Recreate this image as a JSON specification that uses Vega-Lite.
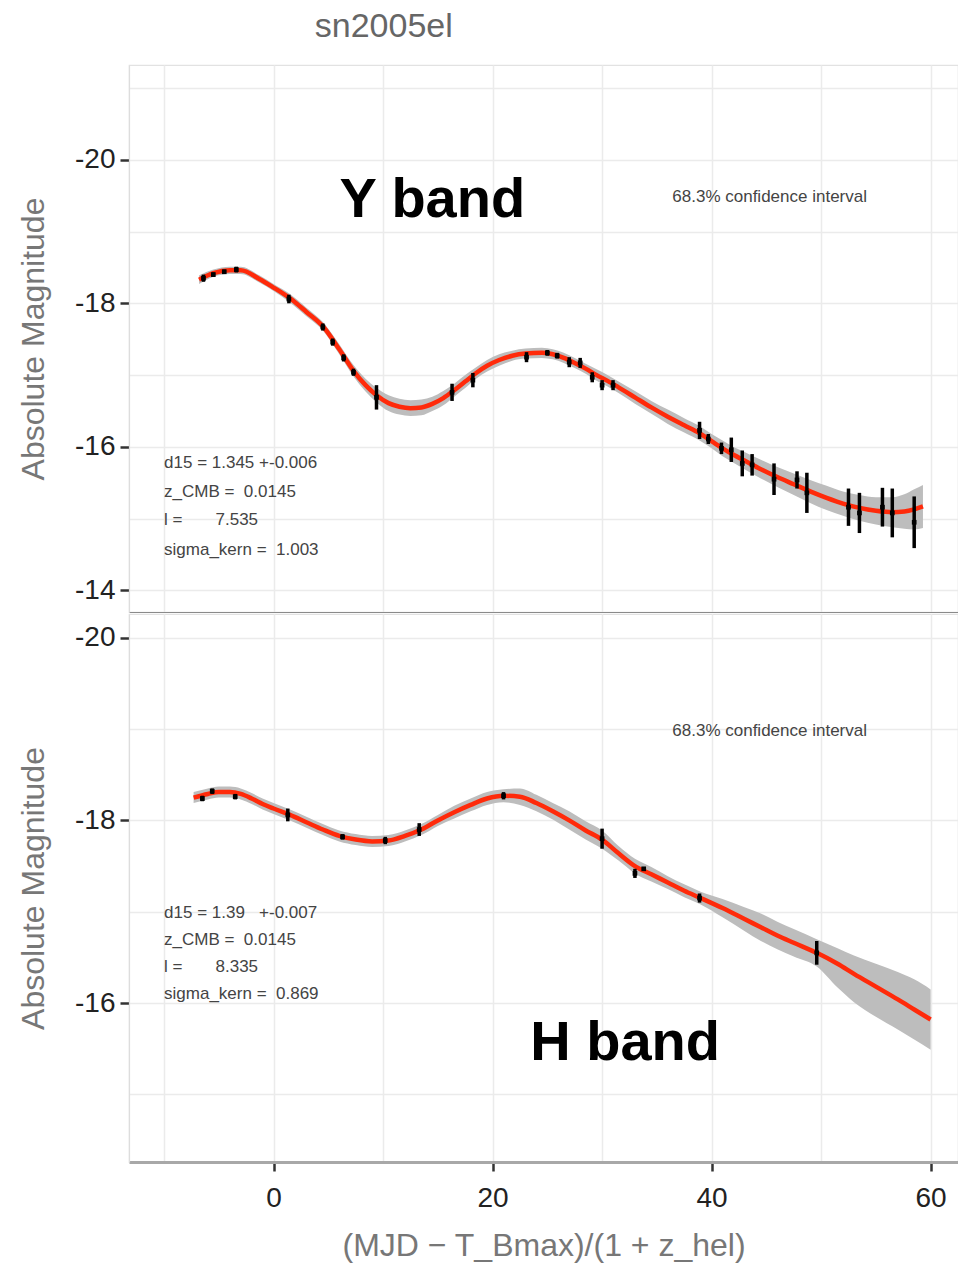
{
  "$schema": "https://vega.github.io/schema/vega-lite/v6.json",
  "padding": {"left": 16, "top": 10, "right": 0, "bottom": 4},
  "background": "white",
  "title": {"text": "sn2005el", "fontSize": 34, "color": "#666666", "fontWeight": "normal", "anchor": "middle", "dx": -104, "offset": 20},
  "spacing": 0,
  "datasets": {
    "curve": [
      {"band": "Y", "x": -6.8, "y": -18.33, "lo": -18.39, "hi": -18.27},
      {"band": "Y", "x": -5.5, "y": -18.42, "lo": -18.47, "hi": -18.37},
      {"band": "Y", "x": -4.0, "y": -18.46, "lo": -18.51, "hi": -18.41},
      {"band": "Y", "x": -3.0, "y": -18.46, "lo": -18.51, "hi": -18.41},
      {"band": "Y", "x": -1.3, "y": -18.34, "lo": -18.39, "hi": -18.29},
      {"band": "Y", "x": 0.0, "y": -18.22, "lo": -18.27, "hi": -18.17},
      {"band": "Y", "x": 1.5, "y": -18.07, "lo": -18.13, "hi": -18.01},
      {"band": "Y", "x": 3.0, "y": -17.88, "lo": -17.94, "hi": -17.82},
      {"band": "Y", "x": 4.5, "y": -17.68, "lo": -17.74, "hi": -17.62},
      {"band": "Y", "x": 6.0, "y": -17.36, "lo": -17.43, "hi": -17.29},
      {"band": "Y", "x": 7.3, "y": -17.06, "lo": -17.14, "hi": -16.98},
      {"band": "Y", "x": 8.4, "y": -16.86, "lo": -16.95, "hi": -16.77},
      {"band": "Y", "x": 9.4, "y": -16.72, "lo": -16.82, "hi": -16.62},
      {"band": "Y", "x": 10.5, "y": -16.61, "lo": -16.72, "hi": -16.50},
      {"band": "Y", "x": 11.5, "y": -16.56, "lo": -16.67, "hi": -16.45},
      {"band": "Y", "x": 12.5, "y": -16.54, "lo": -16.65, "hi": -16.43},
      {"band": "Y", "x": 13.5, "y": -16.55, "lo": -16.66, "hi": -16.44},
      {"band": "Y", "x": 14.5, "y": -16.60, "lo": -16.70, "hi": -16.50},
      {"band": "Y", "x": 15.5, "y": -16.68, "lo": -16.78, "hi": -16.58},
      {"band": "Y", "x": 16.5, "y": -16.79, "lo": -16.88, "hi": -16.70},
      {"band": "Y", "x": 17.5, "y": -16.91, "lo": -17.00, "hi": -16.82},
      {"band": "Y", "x": 18.5, "y": -17.03, "lo": -17.11, "hi": -16.95},
      {"band": "Y", "x": 19.5, "y": -17.13, "lo": -17.21, "hi": -17.05},
      {"band": "Y", "x": 20.6, "y": -17.21, "lo": -17.29, "hi": -17.13},
      {"band": "Y", "x": 21.8, "y": -17.27, "lo": -17.34, "hi": -17.20},
      {"band": "Y", "x": 23.0, "y": -17.30, "lo": -17.37, "hi": -17.23},
      {"band": "Y", "x": 24.5, "y": -17.31, "lo": -17.38, "hi": -17.24},
      {"band": "Y", "x": 25.5, "y": -17.29, "lo": -17.36, "hi": -17.22},
      {"band": "Y", "x": 26.5, "y": -17.24, "lo": -17.31, "hi": -17.17},
      {"band": "Y", "x": 27.5, "y": -17.17, "lo": -17.24, "hi": -17.10},
      {"band": "Y", "x": 28.5, "y": -17.09, "lo": -17.16, "hi": -17.02},
      {"band": "Y", "x": 29.5, "y": -17.00, "lo": -17.08, "hi": -16.92},
      {"band": "Y", "x": 30.5, "y": -16.92, "lo": -17.00, "hi": -16.84},
      {"band": "Y", "x": 31.5, "y": -16.83, "lo": -16.91, "hi": -16.75},
      {"band": "Y", "x": 33.0, "y": -16.69, "lo": -16.78, "hi": -16.60},
      {"band": "Y", "x": 34.5, "y": -16.55, "lo": -16.64, "hi": -16.46},
      {"band": "Y", "x": 36.0, "y": -16.42, "lo": -16.52, "hi": -16.32},
      {"band": "Y", "x": 37.5, "y": -16.30, "lo": -16.40, "hi": -16.20},
      {"band": "Y", "x": 38.9, "y": -16.19, "lo": -16.29, "hi": -16.09},
      {"band": "Y", "x": 40.0, "y": -16.08, "lo": -16.18, "hi": -15.98},
      {"band": "Y", "x": 41.0, "y": -15.98, "lo": -16.09, "hi": -15.87},
      {"band": "Y", "x": 42.0, "y": -15.89, "lo": -16.00, "hi": -15.78},
      {"band": "Y", "x": 43.0, "y": -15.81, "lo": -15.93, "hi": -15.69},
      {"band": "Y", "x": 44.5, "y": -15.69, "lo": -15.82, "hi": -15.56},
      {"band": "Y", "x": 46.0, "y": -15.58, "lo": -15.72, "hi": -15.44},
      {"band": "Y", "x": 47.5, "y": -15.48, "lo": -15.63, "hi": -15.33},
      {"band": "Y", "x": 49.0, "y": -15.38, "lo": -15.54, "hi": -15.22},
      {"band": "Y", "x": 50.5, "y": -15.29, "lo": -15.46, "hi": -15.12},
      {"band": "Y", "x": 52.0, "y": -15.21, "lo": -15.38, "hi": -15.04},
      {"band": "Y", "x": 53.5, "y": -15.15, "lo": -15.33, "hi": -14.97},
      {"band": "Y", "x": 55.0, "y": -15.11, "lo": -15.30, "hi": -14.92},
      {"band": "Y", "x": 56.5, "y": -15.09, "lo": -15.30, "hi": -14.88},
      {"band": "Y", "x": 57.6, "y": -15.10, "lo": -15.34, "hi": -14.86},
      {"band": "Y", "x": 58.5, "y": -15.13, "lo": -15.41, "hi": -14.85},
      {"band": "Y", "x": 59.3, "y": -15.17, "lo": -15.47, "hi": -14.87},
      {"band": "H", "x": -7.3, "y": -18.25, "lo": -18.31, "hi": -18.19},
      {"band": "H", "x": -6.0, "y": -18.29, "lo": -18.35, "hi": -18.23},
      {"band": "H", "x": -5.0, "y": -18.31, "lo": -18.37, "hi": -18.25},
      {"band": "H", "x": -4.0, "y": -18.31, "lo": -18.37, "hi": -18.25},
      {"band": "H", "x": -3.0, "y": -18.29, "lo": -18.35, "hi": -18.23},
      {"band": "H", "x": -2.0, "y": -18.24, "lo": -18.30, "hi": -18.18},
      {"band": "H", "x": -1.0, "y": -18.18, "lo": -18.24, "hi": -18.12},
      {"band": "H", "x": 0.0, "y": -18.13, "lo": -18.19, "hi": -18.07},
      {"band": "H", "x": 1.5, "y": -18.06, "lo": -18.12, "hi": -18.00},
      {"band": "H", "x": 3.0, "y": -17.98, "lo": -18.04, "hi": -17.92},
      {"band": "H", "x": 4.5, "y": -17.90, "lo": -17.96, "hi": -17.84},
      {"band": "H", "x": 6.0, "y": -17.83, "lo": -17.89, "hi": -17.77},
      {"band": "H", "x": 7.5, "y": -17.79, "lo": -17.85, "hi": -17.73},
      {"band": "H", "x": 9.0, "y": -17.77, "lo": -17.83, "hi": -17.71},
      {"band": "H", "x": 10.5, "y": -17.78, "lo": -17.84, "hi": -17.72},
      {"band": "H", "x": 12.0, "y": -17.83, "lo": -17.89, "hi": -17.77},
      {"band": "H", "x": 13.5, "y": -17.90, "lo": -17.96, "hi": -17.84},
      {"band": "H", "x": 15.0, "y": -18.00, "lo": -18.06, "hi": -17.94},
      {"band": "H", "x": 16.5, "y": -18.09, "lo": -18.16, "hi": -18.02},
      {"band": "H", "x": 18.0, "y": -18.17, "lo": -18.24, "hi": -18.10},
      {"band": "H", "x": 19.5, "y": -18.24, "lo": -18.31, "hi": -18.17},
      {"band": "H", "x": 21.0, "y": -18.27, "lo": -18.34, "hi": -18.20},
      {"band": "H", "x": 22.5, "y": -18.26, "lo": -18.35, "hi": -18.17},
      {"band": "H", "x": 24.0, "y": -18.19, "lo": -18.28, "hi": -18.10},
      {"band": "H", "x": 25.5, "y": -18.10, "lo": -18.19, "hi": -18.01},
      {"band": "H", "x": 27.0, "y": -18.00, "lo": -18.10, "hi": -17.90},
      {"band": "H", "x": 28.5, "y": -17.89, "lo": -17.99, "hi": -17.79},
      {"band": "H", "x": 30.0, "y": -17.79, "lo": -17.89, "hi": -17.69},
      {"band": "H", "x": 31.5, "y": -17.64, "lo": -17.72, "hi": -17.56},
      {"band": "H", "x": 33.0, "y": -17.50, "lo": -17.58, "hi": -17.42},
      {"band": "H", "x": 34.5, "y": -17.41, "lo": -17.49, "hi": -17.33},
      {"band": "H", "x": 36.0, "y": -17.32, "lo": -17.39, "hi": -17.25},
      {"band": "H", "x": 37.5, "y": -17.23, "lo": -17.30, "hi": -17.16},
      {"band": "H", "x": 39.0, "y": -17.15, "lo": -17.22, "hi": -17.08},
      {"band": "H", "x": 41.0, "y": -17.04, "lo": -17.14, "hi": -16.94},
      {"band": "H", "x": 43.0, "y": -16.92, "lo": -17.05, "hi": -16.79},
      {"band": "H", "x": 44.5, "y": -16.83, "lo": -16.98, "hi": -16.68},
      {"band": "H", "x": 46.0, "y": -16.74, "lo": -16.89, "hi": -16.59},
      {"band": "H", "x": 47.5, "y": -16.66, "lo": -16.81, "hi": -16.51},
      {"band": "H", "x": 49.6, "y": -16.55, "lo": -16.70, "hi": -16.40},
      {"band": "H", "x": 51.5, "y": -16.43, "lo": -16.60, "hi": -16.17},
      {"band": "H", "x": 53.0, "y": -16.32, "lo": -16.52, "hi": -16.01},
      {"band": "H", "x": 55.0, "y": -16.18, "lo": -16.43, "hi": -15.85},
      {"band": "H", "x": 57.0, "y": -16.04, "lo": -16.34, "hi": -15.71},
      {"band": "H", "x": 58.5, "y": -15.93, "lo": -16.26, "hi": -15.60},
      {"band": "H", "x": 60.0, "y": -15.82, "lo": -16.15, "hi": -15.49}
    ],
    "obs": [
      {"band": "Y", "x": -6.4, "y": -18.35, "err": 0.05},
      {"band": "Y", "x": -5.5, "y": -18.40, "err": 0.03},
      {"band": "Y", "x": -4.5, "y": -18.44, "err": 0.03},
      {"band": "Y", "x": -3.4, "y": -18.47, "err": 0.04},
      {"band": "Y", "x": 1.4, "y": -18.06, "err": 0.06},
      {"band": "Y", "x": 4.5, "y": -17.67, "err": 0.05},
      {"band": "Y", "x": 5.4, "y": -17.46, "err": 0.05},
      {"band": "Y", "x": 6.4, "y": -17.24, "err": 0.05},
      {"band": "Y", "x": 7.3, "y": -17.04, "err": 0.05},
      {"band": "Y", "x": 9.4, "y": -16.69, "err": 0.17},
      {"band": "Y", "x": 16.3, "y": -16.76, "err": 0.12},
      {"band": "Y", "x": 18.2, "y": -16.93, "err": 0.10},
      {"band": "Y", "x": 23.1, "y": -17.25, "err": 0.07},
      {"band": "Y", "x": 25.0, "y": -17.31, "err": 0.04},
      {"band": "Y", "x": 25.9, "y": -17.27, "err": 0.04},
      {"band": "Y", "x": 27.0, "y": -17.18, "err": 0.07},
      {"band": "Y", "x": 28.0, "y": -17.17, "err": 0.07},
      {"band": "Y", "x": 29.1, "y": -16.97, "err": 0.07},
      {"band": "Y", "x": 30.0, "y": -16.86, "err": 0.07},
      {"band": "Y", "x": 31.0, "y": -16.86, "err": 0.07},
      {"band": "Y", "x": 38.9, "y": -16.23, "err": 0.12},
      {"band": "Y", "x": 39.7, "y": -16.11, "err": 0.07},
      {"band": "Y", "x": 40.9, "y": -15.98, "err": 0.08},
      {"band": "Y", "x": 41.8, "y": -15.96, "err": 0.17},
      {"band": "Y", "x": 42.8, "y": -15.77, "err": 0.18},
      {"band": "Y", "x": 43.7, "y": -15.75, "err": 0.15},
      {"band": "Y", "x": 45.7, "y": -15.55, "err": 0.22},
      {"band": "Y", "x": 47.8, "y": -15.54, "err": 0.12},
      {"band": "Y", "x": 48.7, "y": -15.36, "err": 0.28},
      {"band": "Y", "x": 52.5, "y": -15.16, "err": 0.26},
      {"band": "Y", "x": 53.5, "y": -15.08, "err": 0.28},
      {"band": "Y", "x": 55.6, "y": -15.16, "err": 0.27},
      {"band": "Y", "x": 56.5, "y": -15.08, "err": 0.34},
      {"band": "Y", "x": 58.5, "y": -14.95, "err": 0.36},
      {"band": "H", "x": -6.5, "y": -18.24, "err": 0.03},
      {"band": "H", "x": -5.6, "y": -18.32, "err": 0.03},
      {"band": "H", "x": -3.5, "y": -18.26, "err": 0.03},
      {"band": "H", "x": 1.3, "y": -18.06, "err": 0.07},
      {"band": "H", "x": 6.3, "y": -17.82, "err": 0.03},
      {"band": "H", "x": 10.2, "y": -17.78, "err": 0.04},
      {"band": "H", "x": 13.3, "y": -17.90, "err": 0.07},
      {"band": "H", "x": 21.0, "y": -18.27, "err": 0.04},
      {"band": "H", "x": 30.0, "y": -17.80, "err": 0.11},
      {"band": "H", "x": 33.0, "y": -17.42, "err": 0.05},
      {"band": "H", "x": 33.8, "y": -17.47, "err": 0.02},
      {"band": "H", "x": 38.9, "y": -17.15, "err": 0.05},
      {"band": "H", "x": 49.6, "y": -16.55, "err": 0.13}
    ],
    "notes": [
      {"band": "Y", "kind": "name", "x": 14.5, "y": -19.44, "text": "Y band"},
      {"band": "Y", "kind": "ci", "x": 45.3, "y": -19.48, "text": "68.3% confidence interval"},
      {"band": "Y", "kind": "stat", "x": -10.0, "y": -15.77, "text": "d15 = 1.345 +-0.006"},
      {"band": "Y", "kind": "stat", "x": -10.0, "y": -15.37, "text": "z_CMB =\u00a0\u00a00.0145"},
      {"band": "Y", "kind": "stat", "x": -10.0, "y": -14.98, "text": "l =\u00a0\u00a0\u00a0\u00a0\u00a0\u00a0\u00a07.535"},
      {"band": "Y", "kind": "stat", "x": -10.0, "y": -14.57, "text": "sigma_kern =\u00a0\u00a01.003"},
      {"band": "H", "kind": "name", "x": 32.1, "y": -15.56, "text": "H band"},
      {"band": "H", "kind": "ci", "x": 45.3, "y": -18.98, "text": "68.3% confidence interval"},
      {"band": "H", "kind": "stat", "x": -10.0, "y": -16.99, "text": "d15 = 1.39\u00a0\u00a0\u00a0+-0.007"},
      {"band": "H", "kind": "stat", "x": -10.0, "y": -16.69, "text": "z_CMB =\u00a0\u00a00.0145"},
      {"band": "H", "kind": "stat", "x": -10.0, "y": -16.39, "text": "l =\u00a0\u00a0\u00a0\u00a0\u00a0\u00a0\u00a08.335"},
      {"band": "H", "kind": "stat", "x": -10.0, "y": -16.10, "text": "sigma_kern =\u00a0\u00a00.869"}
    ]
  },
  "vconcat": [
    {
      "width": 829,
      "height": 547,
      "encoding": {
        "x": {"field": "x", "type": "quantitative", "scale": {"domain": [-13.2, 62.5], "nice": false, "zero": false},
          "axis": {"values": [-10, 0, 10, 20, 30, 40, 50, 60], "labels": false, "ticks": false, "title": null, "domain": true, "domainColor": "#8a8a8a", "domainWidth": 1.2}}
      },
      "layer": [
        {
          "data": {"name": "curve"},
          "transform": [{"filter": "datum.band == 'Y'"}],
          "mark": {"type": "area", "color": "#bdbdbd", "interpolate": "monotone", "opacity": 1},
          "encoding": {
            "y": {"field": "lo", "type": "quantitative", "scale": {"domain": [-21.32, -13.7], "reverse": true, "nice": false, "zero": false},
              "axis": {"values": [-21, -20, -19, -18, -17, -16, -15, -14], "title": "Absolute Magnitude",
                "labelExpr": "datum.value % 2 == 0 ? '' + datum.value : ''",
                "tickOpacity": {"condition": {"test": "datum.value % 2 == 0", "value": 1}, "value": 0}}},
            "y2": {"field": "hi"}
          }
        },
        {
          "data": {"name": "curve"},
          "transform": [{"filter": "datum.band == 'Y'"}],
          "mark": {"type": "line", "color": "#ff2a0a", "strokeWidth": 4.5, "interpolate": "monotone"},
          "encoding": {"y": {"field": "y", "type": "quantitative"}}
        },
        {
          "data": {"name": "obs"},
          "transform": [{"filter": "datum.band == 'Y'"}, {"calculate": "datum.y - datum.err", "as": "ylo"}, {"calculate": "datum.y + datum.err", "as": "yhi"}],
          "mark": {"type": "rule", "color": "black", "strokeWidth": 3.5},
          "encoding": {"y": {"field": "ylo", "type": "quantitative"}, "y2": {"field": "yhi"}}
        },
        {
          "data": {"name": "obs"},
          "transform": [{"filter": "datum.band == 'Y'"}],
          "mark": {"type": "square", "color": "black", "size": 22, "opacity": 1},
          "encoding": {"y": {"field": "y", "type": "quantitative"}}
        },
        {
          "data": {"name": "notes"},
          "transform": [{"filter": "datum.band == 'Y' && datum.kind == 'name'"}],
          "mark": {"type": "text", "fontSize": 56, "fontWeight": "bold", "color": "black", "align": "center", "baseline": "middle"},
          "encoding": {"y": {"field": "y", "type": "quantitative"}, "text": {"field": "text"}}
        },
        {
          "data": {"name": "notes"},
          "transform": [{"filter": "datum.band == 'Y' && datum.kind == 'ci'"}],
          "mark": {"type": "text", "fontSize": 17, "color": "#444444", "align": "center", "baseline": "middle"},
          "encoding": {"y": {"field": "y", "type": "quantitative"}, "text": {"field": "text"}}
        },
        {
          "data": {"name": "notes"},
          "transform": [{"filter": "datum.band == 'Y' && datum.kind == 'stat'"}],
          "mark": {"type": "text", "fontSize": 17, "color": "#444444", "align": "left", "baseline": "middle"},
          "encoding": {"y": {"field": "y", "type": "quantitative"}, "text": {"field": "text"}}
        }
      ]
    },
    {
      "width": 829,
      "height": 548,
      "encoding": {
        "x": {"field": "x", "type": "quantitative", "scale": {"domain": [-13.2, 62.5], "nice": false, "zero": false},
          "axis": {"values": [-10, 0, 10, 20, 30, 40, 50, 60], "title": "(MJD − T_Bmax)/(1 + z_hel)",
            "labelExpr": "datum.value % 20 == 0 ? '' + datum.value : ''",
            "tickOpacity": {"condition": {"test": "datum.value % 20 == 0", "value": 1}, "value": 0},
            "domainColor": "#a8a8a8", "domainWidth": 3, "labelPadding": 13, "titlePadding": 18}}
      },
      "layer": [
        {
          "data": {"name": "curve"},
          "transform": [{"filter": "datum.band == 'H'"}],
          "mark": {"type": "area", "color": "#bdbdbd", "interpolate": "monotone", "opacity": 1},
          "encoding": {
            "y": {"field": "lo", "type": "quantitative", "scale": {"domain": [-20.26, -14.26], "reverse": true, "nice": false, "zero": false},
              "axis": {"values": [-20, -19, -18, -17, -16, -15], "title": "Absolute Magnitude",
                "labelExpr": "datum.value % 2 == 0 ? '' + datum.value : ''",
                "tickOpacity": {"condition": {"test": "datum.value % 2 == 0", "value": 1}, "value": 0}}},
            "y2": {"field": "hi"}
          }
        },
        {
          "data": {"name": "curve"},
          "transform": [{"filter": "datum.band == 'H'"}],
          "mark": {"type": "line", "color": "#ff2a0a", "strokeWidth": 4.5, "interpolate": "monotone"},
          "encoding": {"y": {"field": "y", "type": "quantitative"}}
        },
        {
          "data": {"name": "obs"},
          "transform": [{"filter": "datum.band == 'H'"}, {"calculate": "datum.y - datum.err", "as": "ylo"}, {"calculate": "datum.y + datum.err", "as": "yhi"}],
          "mark": {"type": "rule", "color": "black", "strokeWidth": 3.5},
          "encoding": {"y": {"field": "ylo", "type": "quantitative"}, "y2": {"field": "yhi"}}
        },
        {
          "data": {"name": "obs"},
          "transform": [{"filter": "datum.band == 'H'"}],
          "mark": {"type": "square", "color": "black", "size": 22, "opacity": 1},
          "encoding": {"y": {"field": "y", "type": "quantitative"}}
        },
        {
          "data": {"name": "notes"},
          "transform": [{"filter": "datum.band == 'H' && datum.kind == 'name'"}],
          "mark": {"type": "text", "fontSize": 56, "fontWeight": "bold", "color": "black", "align": "center", "baseline": "middle"},
          "encoding": {"y": {"field": "y", "type": "quantitative"}, "text": {"field": "text"}}
        },
        {
          "data": {"name": "notes"},
          "transform": [{"filter": "datum.band == 'H' && datum.kind == 'ci'"}],
          "mark": {"type": "text", "fontSize": 17, "color": "#444444", "align": "center", "baseline": "middle"},
          "encoding": {"y": {"field": "y", "type": "quantitative"}, "text": {"field": "text"}}
        },
        {
          "data": {"name": "notes"},
          "transform": [{"filter": "datum.band == 'H' && datum.kind == 'stat'"}],
          "mark": {"type": "text", "fontSize": 17, "color": "#444444", "align": "left", "baseline": "middle"},
          "encoding": {"y": {"field": "y", "type": "quantitative"}, "text": {"field": "text"}}
        }
      ]
    }
  ],
  "config": {
    "font": "Liberation Sans",
    "view": {"stroke": "#e2e2e2", "strokeWidth": 1.2},
    "axis": {
      "gridColor": "#ebebeb",
      "gridWidth": 1.5,
      "labelFontSize": 28,
      "labelColor": "#222222",
      "labelFont": "Liberation Sans",
      "titleFontSize": 32,
      "titleFontWeight": "normal",
      "titleColor": "#777777",
      "tickColor": "#333333",
      "tickWidth": 2.5,
      "tickSize": 9,
      "labelPadding": 4
    },
    "axisY": {"domainColor": "#dddddd", "domainWidth": 1.2, "titlePadding": 24, "labelPadding": 5}
  }
}
